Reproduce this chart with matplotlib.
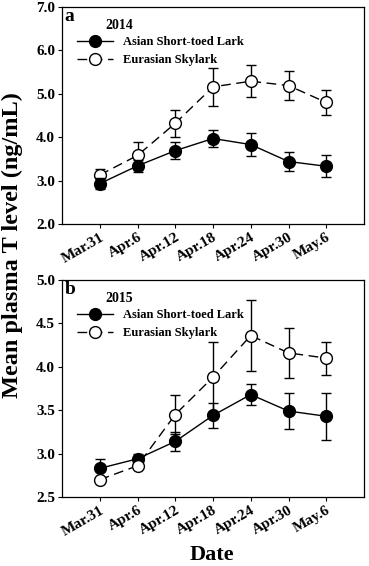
import matplotlib
matplotlib.use("Agg")
import matplotlib.pyplot as plt
from matplotlib.lines import Line2D

plt.rcParams['font.family'] = ['Liberation Serif', 'DejaVu Serif']
plt.rcParams['font.weight'] = 'bold'

dates = ["Mar.31", "Apr.6", "Apr.12", "Apr.18", "Apr.24", "Apr.30", "May.6"]

# 2014
lark_2014 = [2.93, 3.34, 3.69, 3.97, 3.83, 3.44, 3.33]
lark_2014_se = [0.13, 0.14, 0.20, 0.20, 0.26, 0.22, 0.25]
sky_2014 = [3.13, 3.58, 4.32, 5.16, 5.29, 5.19, 4.80]
sky_2014_se = [0.14, 0.32, 0.31, 0.43, 0.37, 0.33, 0.28]

# 2015
lark_2015 = [2.83, 2.94, 3.14, 3.44, 3.68, 3.49, 3.43]
lark_2015_se = [0.11, 0.06, 0.11, 0.14, 0.12, 0.21, 0.27]
sky_2015 = [2.70, 2.86, 3.45, 3.88, 4.36, 4.16, 4.10]
sky_2015_se = [0.03, 0.03, 0.22, 0.41, 0.41, 0.29, 0.19]

W, H = 369, 566
fig = plt.figure(figsize=(W / 100, H / 100), dpi=100)
ax1 = fig.add_axes([62 / W, 1 - 224 / H, 302 / W, 217 / H])
ax2 = fig.add_axes([62 / W, 1 - 497 / H, 302 / W, 217 / H])

SKY_DASH = (0, (7, 4))


def draw_panel(ax, lark, lark_se, sky, sky_se, ylim, yticks, letter, year, lark_on_top):
    x = list(range(len(dates)))
    z_lark, z_sky = (4, 3) if lark_on_top else (3, 4)
    ax.errorbar(x, lark, yerr=lark_se, fmt='-o', color='black', mfc='black', mec='black',
                ms=8.5, lw=1, capsize=3.5, elinewidth=1, capthick=1, zorder=z_lark)
    ax.errorbar(x, sky, yerr=sky_se, fmt='-o', color='black', mfc='white', mec='black',
                ms=8.5, lw=1, ls=SKY_DASH, capsize=3.5, elinewidth=1, capthick=1,
                zorder=z_sky)
    ax.set_xlim(-1, 7)
    ax.set_ylim(*ylim)
    ax.set_yticks(yticks)
    ax.set_yticklabels([f"{t:.1f}" for t in yticks], fontsize=11, fontweight='bold')
    ax.set_xticks(x)
    ax.set_xticklabels(dates, rotation=30, ha='right', rotation_mode='anchor',
                       fontsize=11, fontweight='bold')
    ax.tick_params(direction='out', length=3, width=0.8, pad=2)
    for s in ax.spines.values():
        s.set_linewidth(0.9)
    ax.text(0.008, 0.995, letter, transform=ax.transAxes, fontsize=14, fontweight='bold',
            va='top', ha='left')
    ax.text(0.142, 0.917, year, transform=ax.transAxes, fontsize=10, fontweight='bold',
            va='center', ha='left')
    handles = [
        Line2D([], [], color='black', lw=1, marker='o', ms=8.5, mfc='black', mec='black'),
        Line2D([], [], color='black', lw=1, ls=SKY_DASH, marker='o', ms=8.5,
               mfc='white', mec='black'),
    ]
    leg = ax.legend(handles, ["Asian Short-toed Lark", "Eurasian Skylark"],
                    loc='upper left', bbox_to_anchor=(0.05, 0.865), frameon=False,
                    fontsize=9, handlelength=2.9, handletextpad=0.8, labelspacing=0.45,
                    borderaxespad=0, borderpad=0)
    for t in leg.get_texts():
        t.set_fontweight('bold')


draw_panel(ax1, lark_2014, lark_2014_se, sky_2014, sky_2014_se, (2.0, 7.0),
           [2.0, 3.0, 4.0, 5.0, 6.0, 7.0], "a", "2014", True)
draw_panel(ax2, lark_2015, lark_2015_se, sky_2015, sky_2015_se, (2.5, 5.0),
           [2.5, 3.0, 3.5, 4.0, 4.5, 5.0], "b", "2015", False)

fig.text(12 / W, 1 - 245 / H, "Mean plasma T level (ng/mL)", rotation=90, fontsize=17.5,
         fontweight='bold', ha='center', va='center')
fig.text(212 / W, 1 - 555 / H, "Date", fontsize=16, fontweight='bold',
         ha='center', va='center')

fig.savefig("out.png", dpi=100)
